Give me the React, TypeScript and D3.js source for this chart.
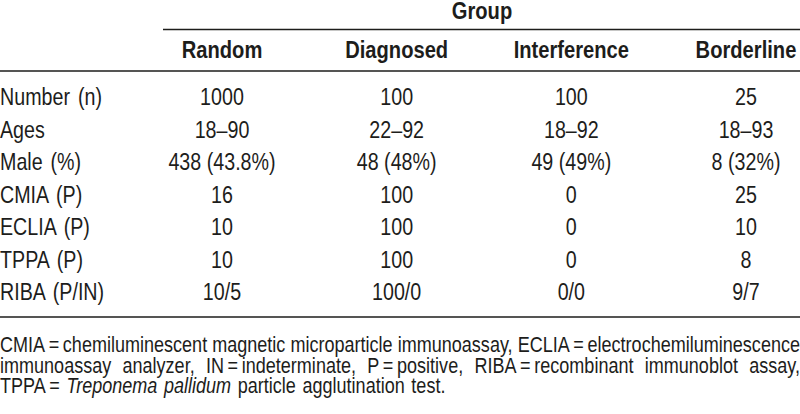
import React, { useEffect, useRef } from 'react'
import * as d3 from 'd3'

const groups = ['Random', 'Diagnosed', 'Interference', 'Borderline']
const rowLabels = ['Number (n)', 'Ages', 'Male (%)', 'CMIA (P)', 'ECLIA (P)', 'TPPA (P)', 'RIBA (P/IN)']
const random = ['1000', '18–90', '438 (43.8%)', '16', '10', '10', '10/5']
const diagnosed = ['100', '22–92', '48 (48%)', '100', '100', '100', '100/0']
const interference = ['100', '18–92', '49 (49%)', '0', '0', '0', '0/0']
const borderline = ['25', '18–93', '8 (32%)', '25', '10', '8', '9/7']

const eq = '\u2009=\u2009'
// footnote lines: [word, italic], and whether the line is justified
const noteLines = [
    { justify: true, words: [['CMIA' + eq + 'chemiluminescent'], ['magnetic'], ['microparticle'], ['immunoassay,'], ['ECLIA' + eq + 'electrochemiluminescence']] },
    { justify: true, words: [['immunoassay'], ['analyzer,'], ['IN' + eq + 'indeterminate,'], ['P' + eq + 'positive,'], ['RIBA' + eq + 'recombinant'], ['immunoblot'], ['assay,']] },
    { justify: false, words: [['TPPA\u2009='], ['Treponema', true], ['pallidum', true], ['particle'], ['agglutination'], ['test.']] },
]

const W = 800
const H = 414
const FONT = '"Liberation Sans", Arial, sans-serif'
const ink = '#1d1d1b'
// squeeze Liberation Sans to look like a condensed grotesque
const SX = 0.82
const SX_BOLD = 0.84

const App = () => {
    const ref = useRef<SVGSVGElement>(null)

    useEffect(() => {
        const draw = () => {
            const svg = d3.select(ref.current)
            svg.selectAll('*').remove()
            svg.attr('width', W).attr('height', H)
                .style('font-family', FONT)

            const columns = [random, diagnosed, interference, borderline]

            const x = d3.scalePoint<string>().domain(groups).range([222, 746])
            const y = d3.scalePoint<string>().domain(rowLabels).range([105, 300])

            const label = (s: string, tx: number, ty: number, size: number, anchor = 'start', bold = false, italic = false) =>
                svg.append('text')
                    .text(s)
                    .attr('transform', `translate(${tx},${ty}) scale(${bold ? SX_BOLD : SX},1)`)
                    .attr('text-anchor', anchor)
                    .attr('font-size', size)
                    .attr('font-weight', bold ? 'bold' : 'normal')
                    .attr('font-style', italic ? 'italic' : 'normal')
                    .attr('fill', ink)
                    .style('white-space', 'pre')

            // rules
            const rule = (x1: number, x2: number, yy: number) =>
                svg.append('line')
                    .attr('x1', x1).attr('x2', x2)
                    .attr('y1', yy).attr('y2', yy)
                    .attr('stroke', ink).attr('stroke-width', 1.4)
            rule(163, W, 29.5)
            rule(0, W, 71)
            rule(0, W, 317)

            // spanning header
            label('Group', (x('Random')! + x('Borderline')!) / 2 - 2, 18.5, 24, 'middle', true)

            // column headers
            groups.forEach(g => label(g, x(g)!, 58, 24, 'middle', true))

            // row labels
            rowLabels.forEach(r => label(r, 0, y(r)!, 24).style('word-spacing', '3px'))

            // cells
            groups.forEach((g, gi) => {
                columns[gi].forEach((v, i) => label(v, x(g)!, y(rowLabels[i])!, 24, 'middle'))
            })

            // footnote, justified word by word
            const fs = 22
            noteLines.forEach((line, li) => {
                const base = 352 + li * 20.5
                const nodes = line.words.map(([w, it]) => label(w as string, 0, base, fs, 'start', false, !!it))
                const widths = nodes.map(n => (n.node() as SVGTextElement).getComputedTextLength() * SX)
                const total = d3.sum(widths)
                const gap = line.justify ? (W - total) / (nodes.length - 1) : fs * 0.3
                let cx = 0
                nodes.forEach((n, i) => {
                    n.attr('transform', `translate(${cx},${base}) scale(${SX},1)`)
                    cx += widths[i] + gap
                })
            })
        }
        draw()
        if (document.fonts) document.fonts.ready.then(draw)
    })

    return (
        <div>
            <svg ref={ref} style={{ position: 'absolute', left: 0, top: 0 }}></svg>
        </div>
    )
}
export default App
